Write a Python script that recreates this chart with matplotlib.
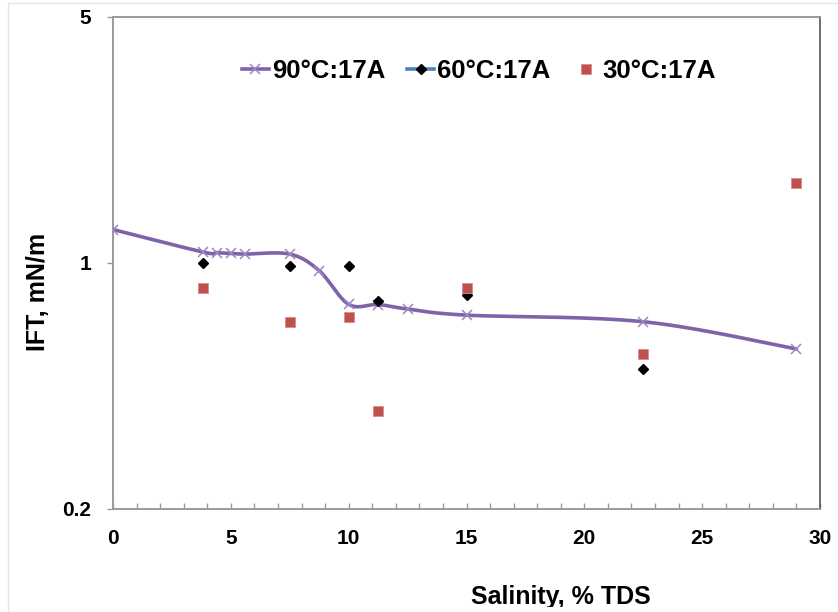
import numpy as np
import matplotlib
matplotlib.use("Agg")
import matplotlib.pyplot as plt
from matplotlib.lines import Line2D
from matplotlib.patches import Rectangle
from matplotlib.transforms import Bbox
from matplotlib.ticker import FixedLocator, NullLocator, MultipleLocator, FixedFormatter

# Interfacial tension vs salinity for crude 17A at three temperatures
sal_90 = [0, 3.8, 4.4, 5.0, 5.6, 7.5, 8.75, 10, 11.25, 12.5, 15, 22.5, 29]
ift_90 = [1.245, 1.075, 1.07, 1.065, 1.06, 1.06, 0.951, 0.763, 0.762, 0.74, 0.711, 0.681, 0.570]

sal_60 = [3.8, 7.5, 10, 11.25, 15, 22.5]
ift_60 = [1.00, 0.98, 0.98, 0.781, 0.81, 0.50]

sal_30 = [3.8, 7.5, 10, 11.25, 15, 22.5, 29]
ift_30 = [0.851, 0.680, 0.701, 0.380, 0.851, 0.550, 1.691]

series_labels = ["90°C:17A", "60°C:17A", "30°C:17A"]
x_ticks = [0, 5, 10, 15, 20, 25, 30]
y_ticks = [0.2, 1, 5]
y_tick_labels = ["0.2", "1", "5"]

PURPLE = "#7F63A8"
PURPLE_LIGHT = "#9E88C4"
RED = "#C0504D"
BLUE = "#4F81BD"
GRAY = "#9A9A9A"

plt.rcParams["font.family"] = ["Liberation Sans", "DejaVu Sans"]
plt.rcParams["font.weight"] = "bold"


def smooth_curve(x, y, n=40):
    """Bezier smoothing (Catmull-Rom style) in x / log10(y) space."""
    P = np.column_stack([np.asarray(x, float), np.log10(np.asarray(y, float))])
    out = []
    t = np.linspace(0, 1, n)[:, None]
    for i in range(len(P) - 1):
        p0 = P[max(i - 1, 0)]
        p1 = P[i]
        p2 = P[i + 1]
        p3 = P[min(i + 2, len(P) - 1)]
        c1 = p1 + (p2 - p0) / 6.0
        c2 = p2 - (p3 - p1) / 6.0
        seg = (1 - t) ** 3 * p1 + 3 * (1 - t) ** 2 * t * c1 + 3 * (1 - t) * t ** 2 * c2 + t ** 3 * p2
        out.append(seg if i == 0 else seg[1:])
    pts = np.vstack(out)
    return pts[:, 0], 10 ** pts[:, 1]


fig = plt.figure(figsize=(8.38, 6.12), dpi=100)
fig.patches.append(Rectangle((8 / 838, -0.1), 1.2, 1 - 3 / 612 + 0.1,
                             transform=fig.transFigure, fill=False,
                             edgecolor="#E6E6E6", lw=1.0))

ax = fig.add_axes([113 / 838, 1 - 509 / 612, (820 - 113) / 838, (509 - 17) / 612])
ax.set_yscale("log")
ax.set_xlim(0, 30)
ax.set_ylim(0.2, 5)

sx, sy = smooth_curve(sal_90, ift_90)
ax.plot(sx, sy, color=PURPLE, lw=2.6, solid_capstyle="round", zorder=3)
ax.plot(sal_90, ift_90, ls="none", marker="x", ms=6.5, mew=1.1, color=PURPLE_LIGHT, zorder=4)
ax.plot(sal_60, ift_60, ls="none", marker="D", ms=4.8, color="black", zorder=5)
ax.plot(sal_30, ift_30, ls="none", marker="s", ms=6.6, mfc=RED, mec="#D98C8A", mew=0.6, zorder=5)

# axes frame
for side in ["left", "bottom", "top"]:
    ax.spines[side].set_color(GRAY)
    ax.spines[side].set_linewidth(1.4)
ax.spines["right"].set_color("#555555")
ax.spines["right"].set_linewidth(1.2)

ax.xaxis.set_major_locator(FixedLocator(x_ticks))
ax.xaxis.set_minor_locator(MultipleLocator(1))
ax.tick_params(axis="x", which="both", direction="in", length=4, width=1, color=GRAY,
               labelsize=15, pad=14.5)
ax.yaxis.set_major_locator(FixedLocator(y_ticks))
ax.yaxis.set_major_formatter(FixedFormatter(y_tick_labels))
ax.yaxis.set_minor_locator(NullLocator())
ax.tick_params(axis="y", which="major", direction="out", length=4.3, width=1, color=GRAY,
               labelsize=15, pad=11.5)
for lab in ax.get_xticklabels() + ax.get_yticklabels():
    lab.set_fontweight("bold")

fig.text(38 / 838, 1 - 292 / 612, "IFT, mN/m", rotation=90, ha="center", va="center",
         fontsize=18, fontweight="bold")
xlab = fig.text(561 / 838, 1 - 604 / 612, "Salinity, % TDS", ha="center", va="baseline",
                fontsize=18, fontweight="bold")
# the chart area ends just below the axis title baseline
xlab.set_clip_box(Bbox.from_extents(0, 5.5, 838, 612))
xlab.set_clip_on(True)

handles = [
    Line2D([], [], color=PURPLE, lw=2.6, marker="x", ms=6.5, mew=1.1, mec=PURPLE_LIGHT),
    Line2D([], [], color=BLUE, lw=2.6, marker="D", ms=4.8, mfc="black", mec="black"),
    Line2D([], [], ls="none", marker="s", ms=6.6, mfc=RED, mec="#D98C8A", mew=0.6),
]
leg = ax.legend(handles, series_labels, loc="center", bbox_to_anchor=(479 / 838, 1 - 71 / 612),
                bbox_transform=fig.transFigure, ncol=3, frameon=False,
                prop={"size": 18.5, "weight": "bold"}, handlelength=1.05,
                handletextpad=0.12, columnspacing=0.85, borderpad=0, borderaxespad=0)

fig.savefig("out.png", dpi=100)
